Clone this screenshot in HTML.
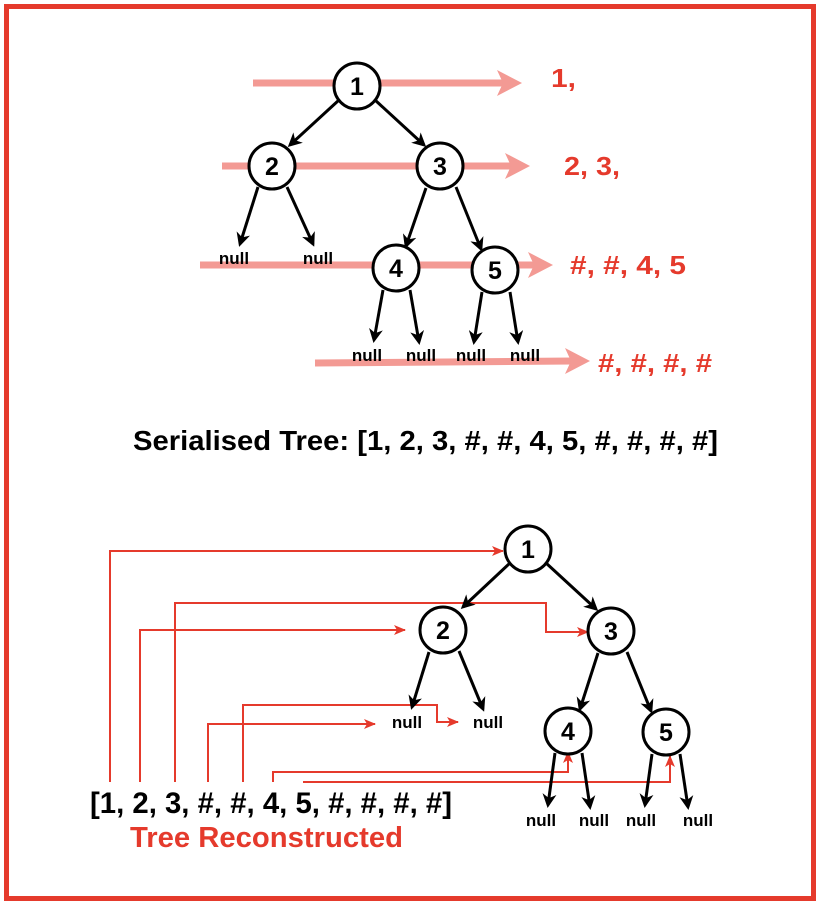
<!DOCTYPE html>
<html><head><style>
body{margin:0;background:#fff;width:820px;height:904px;overflow:hidden}
svg text{font-family:"Liberation Sans",Arial,sans-serif;font-weight:bold}
</style></head><body>
<svg width="820" height="904" viewBox="0 0 820 904" xmlns="http://www.w3.org/2000/svg">
<defs>
<marker id="bk" markerWidth="14" markerHeight="14" refX="11" refY="7" orient="auto" markerUnits="userSpaceOnUse"><path d="M0,0 L14,7 L0,14 L4,7 z" fill="#000"/></marker>
<marker id="rd" markerWidth="12" markerHeight="10" refX="11" refY="5" orient="auto" markerUnits="userSpaceOnUse"><path d="M0,0 L12,5 L0,10 L3,5 z" fill="#e53a2c"/></marker>
</defs>
<rect x="6.5" y="6.5" width="807" height="892" fill="none" stroke="#e53a2c" stroke-width="5"/>
<g stroke="#f39a94" stroke-width="7" fill="#f39a94">
<line x1="253" y1="83" x2="505" y2="83"/><path d="M497,70 L522,83 L497,96 L503,83z" stroke="none"/>
<line x1="222" y1="166" x2="513" y2="166"/><path d="M505,153 L530,166 L505,179 L511,166z" stroke="none"/>
<line x1="200" y1="265" x2="536" y2="265"/><path d="M528,252 L553,265 L528,278 L534,265z" stroke="none"/>
<line x1="315" y1="363" x2="573" y2="361"/><path d="M565,348 L590,361 L565,374 L571,361z" stroke="none"/>
</g>
<g fill="#e53a2c" font-size="26" lengthAdjust="spacingAndGlyphs">
<text x="551" y="87" textLength="25" lengthAdjust="spacingAndGlyphs">1,</text>
<text x="564" y="175" textLength="56" lengthAdjust="spacingAndGlyphs">2, 3,</text>
<text x="570" y="274" textLength="116" lengthAdjust="spacingAndGlyphs">#, #, 4, 5</text>
<text x="598" y="372" textLength="114" lengthAdjust="spacingAndGlyphs">#, #, #, #</text>
</g>
<g stroke="#000" stroke-width="3" marker-end="url(#bk)">
<line x1="339" y1="100" x2="290" y2="145"/>
<line x1="375" y1="100" x2="424" y2="145"/>
<line x1="258" y1="187" x2="240" y2="244"/>
<line x1="287" y1="187" x2="313" y2="244"/>
<line x1="426" y1="188" x2="406" y2="246"/>
<line x1="456" y1="187" x2="481" y2="249"/>
<line x1="383" y1="290" x2="374" y2="340"/>
<line x1="410" y1="290" x2="419" y2="342"/>
<line x1="482" y1="292" x2="474" y2="342"/>
<line x1="510" y1="292" x2="518" y2="342"/>
</g>
<g stroke="#000" stroke-width="3" fill="#fff">
<circle cx="357" cy="86" r="23"/><circle cx="272" cy="166" r="23"/><circle cx="440" cy="166" r="23"/>
<circle cx="396" cy="268" r="23"/><circle cx="495" cy="270" r="23"/>
</g>
<g font-size="25" text-anchor="middle">
<text x="357" y="95">1</text><text x="272" y="175">2</text><text x="440" y="175">3</text>
<text x="396" y="277">4</text><text x="495" y="279">5</text>
</g>
<g font-size="17" text-anchor="middle">
<text x="234" y="264">null</text><text x="318" y="264">null</text>
<text x="367" y="361">null</text><text x="421" y="361">null</text><text x="471" y="361">null</text><text x="525" y="361">null</text>
</g>
<text x="133" y="450" font-size="28" textLength="585" lengthAdjust="spacingAndGlyphs">Serialised Tree: [1, 2, 3, #, #, 4, 5, #, #, #, #]</text>
<g stroke="#e53a2c" stroke-width="2" fill="none" marker-end="url(#rd)">
<polyline points="110,782 110,551 503,551"/>
<polyline points="140,782 140,630 405,630"/>
<polyline points="175,782 175,603 546,603 546,632 588,632"/>
<polyline points="208,782 208,724 375,724"/>
<polyline points="243,782 243,705 437,705 437,722 458,722"/>
<polyline points="273,782 273,772 568,772 568,752"/>
<polyline points="303,782 670,782 670,756"/>
</g>
<g stroke="#000" stroke-width="3" marker-end="url(#bk)">
<line x1="510" y1="563" x2="463" y2="607"/>
<line x1="546" y1="563" x2="596" y2="609"/>
<line x1="429" y1="652" x2="412" y2="707"/>
<line x1="459" y1="651" x2="483" y2="709"/>
<line x1="598" y1="653" x2="580" y2="709"/>
<line x1="627" y1="652" x2="651" y2="711"/>
<line x1="555" y1="753" x2="548" y2="805"/>
<line x1="582" y1="753" x2="590" y2="807"/>
<line x1="652" y1="754" x2="645" y2="805"/>
<line x1="680" y1="754" x2="688" y2="807"/>
</g>
<g stroke="#000" stroke-width="3" fill="#fff">
<circle cx="528" cy="549" r="23"/><circle cx="443" cy="630" r="23"/><circle cx="611" cy="631" r="23"/>
<circle cx="568" cy="731" r="23"/><circle cx="666" cy="732" r="23"/>
</g>
<g font-size="25" text-anchor="middle">
<text x="528" y="558">1</text><text x="443" y="639">2</text><text x="611" y="640">3</text>
<text x="568" y="740">4</text><text x="666" y="741">5</text>
</g>
<g font-size="17" text-anchor="middle">
<text x="407" y="728">null</text><text x="488" y="728">null</text>
<text x="541" y="826">null</text><text x="594" y="826">null</text><text x="641" y="826">null</text><text x="698" y="826">null</text>
</g>
<text x="90" y="813" font-size="30" textLength="362" lengthAdjust="spacingAndGlyphs">[1, 2, 3, #, #, 4, 5, #, #, #, #]</text>
<text x="130" y="847" font-size="29" textLength="273" lengthAdjust="spacingAndGlyphs" fill="#e53a2c">Tree Reconstructed</text>
</svg>
</body></html>
